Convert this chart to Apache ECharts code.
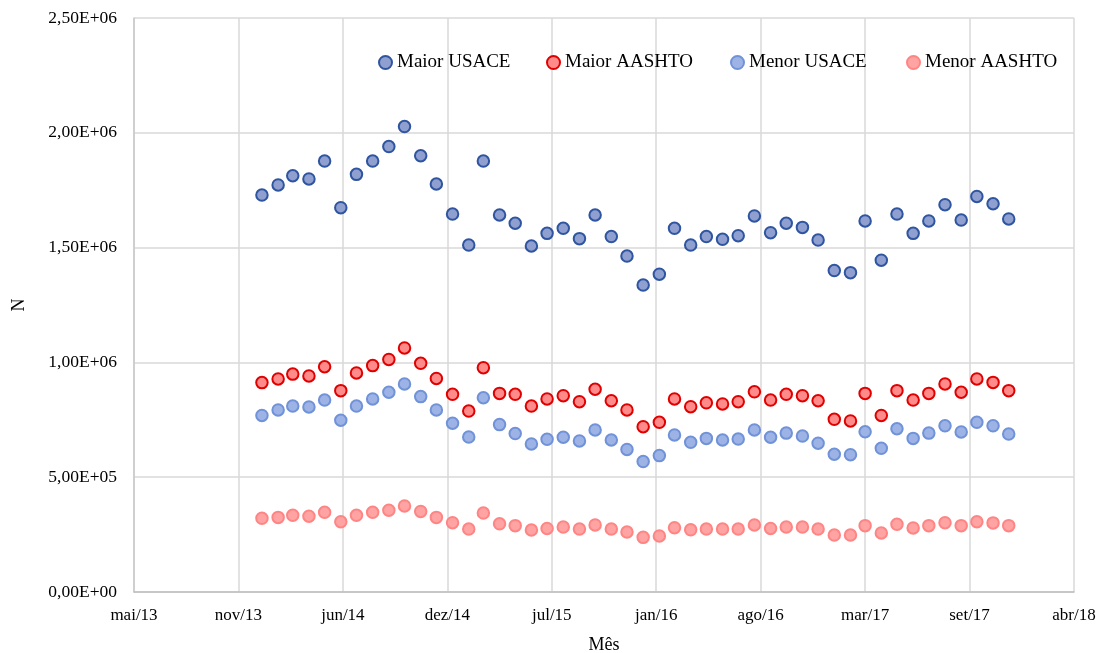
<!DOCTYPE html>
<html>
<head>
<meta charset="utf-8">
<script src="https://cdn.jsdelivr.net/npm/echarts@6/dist/echarts.min.js"></script>
<style>html,body{margin:0;padding:0;background:#fff;}#c{width:1107px;height:653px;}</style>
</head>
<body>
<div id="c"></div>
<script>
// Months of the data points (first day of each month)
const months = [
  "2014-01","2014-02","2014-03","2014-04","2014-05","2014-06","2014-07","2014-08","2014-09","2014-10","2014-11","2014-12",
  "2015-01","2015-02","2015-03","2015-04","2015-05","2015-06","2015-07","2015-08","2015-09","2015-10","2015-11","2015-12",
  "2016-01","2016-02","2016-03","2016-04","2016-05","2016-06","2016-07","2016-08","2016-09","2016-10","2016-11","2016-12",
  "2017-01","2017-02","2017-03","2017-04","2017-05","2017-06","2017-07","2017-08","2017-09","2017-10","2017-11","2017-12"
];
// Values in millions
const maiorUSACE = [1.729,1.773,1.813,1.799,1.877,1.674,1.819,1.877,1.940,2.027,1.900,1.777,
  1.646,1.511,1.877,1.642,1.606,1.507,1.562,1.584,1.539,1.642,1.548,1.463,
  1.337,1.384,1.584,1.511,1.548,1.536,1.552,1.638,1.565,1.606,1.588,1.533,
  1.400,1.391,1.616,1.445,1.646,1.562,1.616,1.687,1.620,1.723,1.691,1.625];
const maiorAASHTO = [0.912,0.928,0.949,0.941,0.981,0.877,0.954,0.986,1.013,1.063,0.996,0.930,
  0.861,0.788,0.977,0.865,0.861,0.810,0.841,0.855,0.829,0.883,0.833,0.793,
  0.720,0.739,0.841,0.807,0.824,0.819,0.829,0.872,0.836,0.861,0.855,0.833,
  0.752,0.745,0.865,0.769,0.877,0.836,0.865,0.906,0.870,0.928,0.913,0.877];
const menorUSACE = [0.769,0.793,0.810,0.806,0.836,0.748,0.810,0.841,0.870,0.906,0.851,0.793,
  0.735,0.675,0.846,0.729,0.690,0.645,0.665,0.674,0.658,0.706,0.662,0.621,
  0.568,0.594,0.684,0.652,0.669,0.662,0.666,0.706,0.674,0.692,0.679,0.648,
  0.600,0.598,0.698,0.626,0.711,0.669,0.692,0.724,0.697,0.739,0.724,0.688];
const menorAASHTO = [0.321,0.325,0.334,0.330,0.347,0.306,0.334,0.347,0.356,0.375,0.351,0.325,
  0.302,0.274,0.344,0.297,0.289,0.270,0.277,0.283,0.274,0.292,0.274,0.261,
  0.238,0.244,0.280,0.271,0.274,0.274,0.274,0.292,0.277,0.283,0.283,0.274,
  0.248,0.248,0.289,0.257,0.295,0.279,0.289,0.302,0.289,0.306,0.301,0.289];
// X axis tick labels (every 200 days starting 01/05/2013)
const xTickLabels = ["mai/13","nov/13","jun/14","dez/14","jul/15","jan/16","ago/16","mar/17","set/17","abr/18"];
const yTickLabels = ["0,00E+00","5,00E+05","1,00E+06","1,50E+06","2,00E+06","2,50E+06"];

const ORIGIN = Date.UTC(2013, 4, 1);
const DAY = 86400000;
const TICK_DAYS = 200;
function dayOf(m) {
  const [y, mo] = m.split('-').map(Number);
  return (Date.UTC(y, mo - 1, 1) - ORIGIN) / DAY;
}
function pts(arr) { return arr.map((v, i) => [dayOf(months[i]), v * 1e6]); }

const FONT = 'Liberation Serif';
const seriesDefs = [
  { name: 'Maior USACE', data: maiorUSACE, fill: '#8e9fd0', border: '#2f55a0' },
  { name: 'Maior AASHTO', data: maiorAASHTO, fill: '#ff8a8a', border: '#e00000' },
  { name: 'Menor USACE', data: menorUSACE, fill: '#9db3e6', border: '#7092d8' },
  { name: 'Menor AASHTO', data: menorAASHTO, fill: '#ffa3a3', border: '#ff8585' }
];
const legendLefts = [378, 546, 730, 906];

const chart = echarts.init(document.getElementById('c'), null, { renderer: 'canvas' });
chart.setOption({
  animation: false,
  backgroundColor: '#fff',
  grid: { left: 134, right: 33, top: 18, bottom: 61, outerBoundsMode: 'none', containLabel: false },
  legend: seriesDefs.map((s, i) => ({
    data: [s.name], left: legendLefts[i], top: 53, icon: 'circle',
    itemWidth: 13, itemHeight: 13, padding: 0,
    textStyle: { fontFamily: FONT, fontSize: 19, color: '#000' }
  })),
  xAxis: {
    type: 'value', min: 0, max: TICK_DAYS * (xTickLabels.length - 1), interval: TICK_DAYS,
    name: 'Mês', nameLocation: 'middle', nameGap: 44,
    nameTextStyle: { fontFamily: FONT, fontSize: 18, color: '#000' },
    axisLine: { show: true, lineStyle: { color: '#bfbfbf', width: 1.5 } },
    axisTick: { show: false },
    axisLabel: { margin: 15, fontFamily: FONT, fontSize: 17, color: '#000',
      formatter: v => xTickLabels[Math.round(v / TICK_DAYS)] },
    splitLine: { show: true, lineStyle: { color: '#d9d9d9', width: 1.5 } }
  },
  yAxis: {
    type: 'value', min: 0, max: 2500000, interval: 500000,
    name: 'N', nameLocation: 'middle', nameGap: 106, nameRotate: 90,
    nameTextStyle: { fontFamily: FONT, fontSize: 18, color: '#000' },
    axisLine: { show: true, lineStyle: { color: '#c8c8c8', width: 1.5 } },
    axisTick: { show: false },
    axisLabel: { margin: 17, fontFamily: FONT, fontSize: 17.5, color: '#000',
      formatter: v => yTickLabels[Math.round(v / 500000)] },
    splitLine: { show: true, lineStyle: { color: '#d9d9d9', width: 1.5 } }
  },
  series: seriesDefs.map(s => ({
    name: s.name, type: 'scatter', data: pts(s.data),
    symbol: 'circle', symbolSize: 11.5,
    itemStyle: { color: s.fill, borderColor: s.border, borderWidth: 2, opacity: 1 },
    emphasis: { disabled: true }
  }))
});
</script>
</body>
</html>
